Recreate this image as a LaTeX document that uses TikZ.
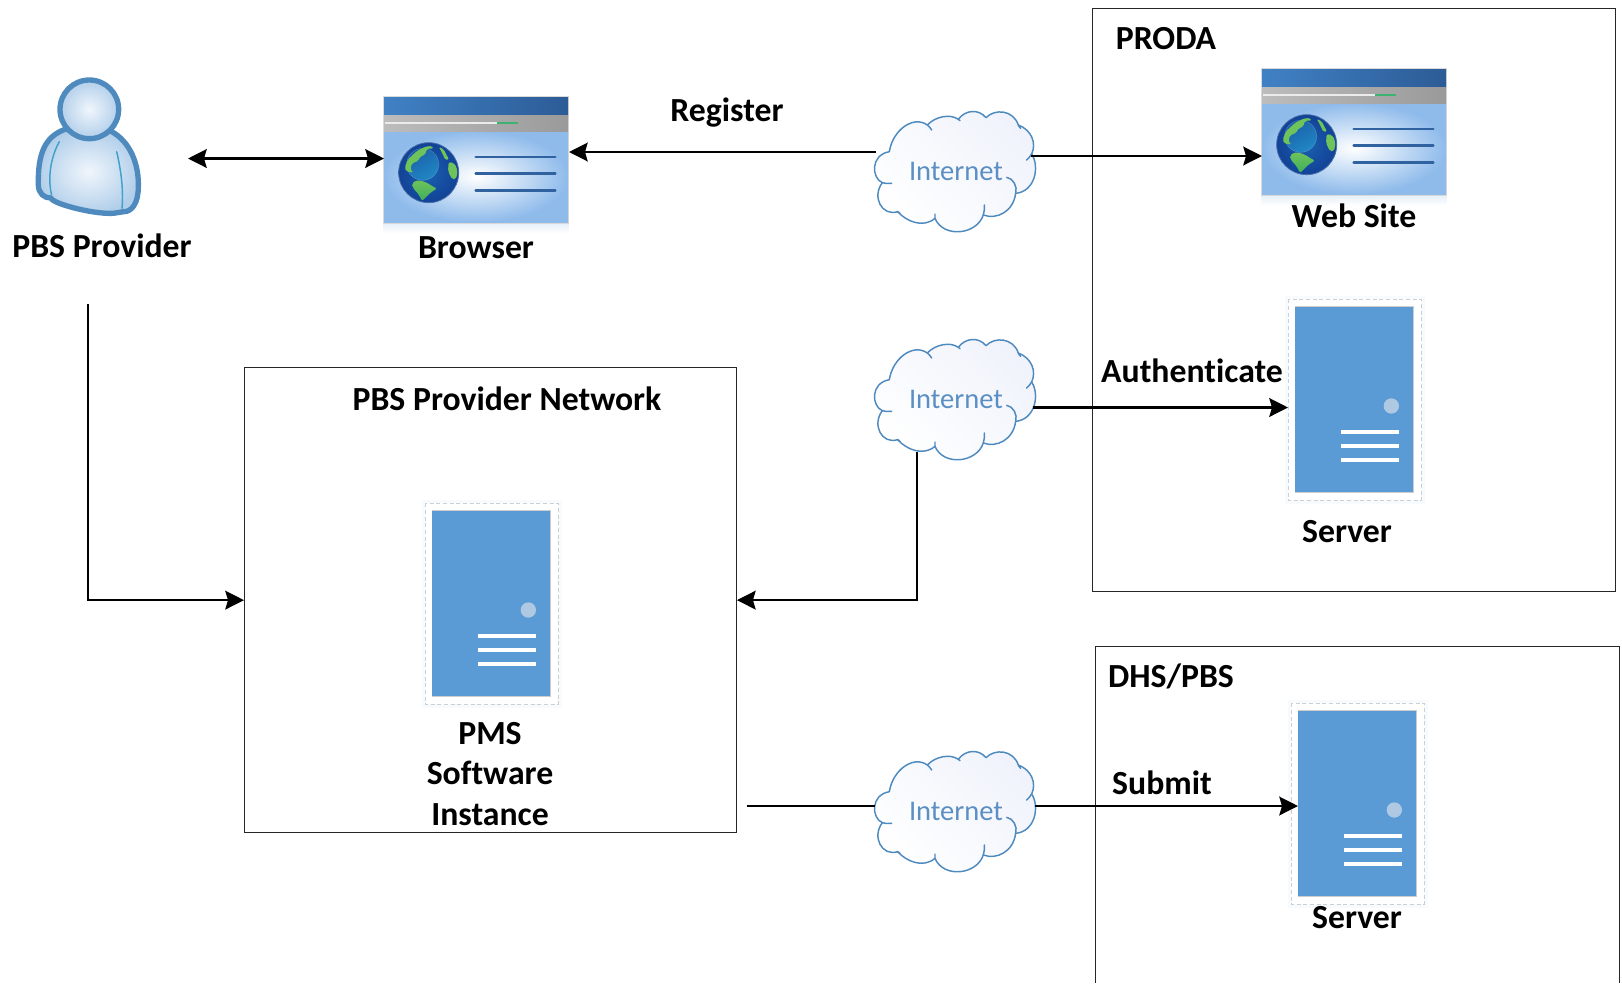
\documentclass[tikz,border=0pt]{standalone}
\usepackage{fontspec}
\setmainfont[Ligatures=NoCommon]{Carlito}
\usetikzlibrary{arrows.meta}
\definecolor{edgeblue}{HTML}{4F8ABF}
\definecolor{srvblue}{HTML}{5B9BD5}
\definecolor{srvdot}{HTML}{AFC9E3}
\definecolor{dashgray}{HTML}{CDD0D3}
\definecolor{txtblue}{HTML}{5B8FC4}
\definecolor{pagepale}{HTML}{8FBBEB}
\definecolor{titleL}{HTML}{4081C5}
\definecolor{titleR}{HTML}{2C5C96}
\definecolor{grayL}{HTML}{BCBCBC}
\definecolor{grayR}{HTML}{9A9A9A}
\definecolor{progress}{HTML}{3CB371}
\definecolor{rulerblue}{HTML}{2F629E}
\definecolor{globeIn}{HTML}{1A5FB0}
\definecolor{globeOut}{HTML}{124296}
\definecolor{globeEdge}{HTML}{466EAA}
\definecolor{lensA}{HTML}{2088C4}
\definecolor{lensB}{HTML}{1B5FA8}
\definecolor{land}{HTML}{6EC35A}
\definecolor{landB}{HTML}{3FAE5E}
\definecolor{cloudpale}{HTML}{F0F3FB}
\definecolor{shadowpale}{HTML}{E4EEF8}
\definecolor{skinIn}{HTML}{F0F6FC}
\definecolor{skinOut}{HTML}{B2CFEA}
\tikzset{
  lbl/.style={font=\fontsize{25.3}{30}\selectfont\bfseries,inner sep=0pt,text=black,align=center},
  netlbl/.style={font=\fontsize{21.4}{25}\selectfont,inner sep=0pt,text=txtblue},
  conn/.style={draw=black,line width=1.9pt,-{Stealth[length=14pt,width=14pt,inset=2pt]}},
  conntwo/.style={draw=black,line width=1.9pt,{Stealth[length=14pt,width=14pt,inset=2pt]}-{Stealth[length=14pt,width=14pt,inset=2pt]}},
  plain/.style={draw=black,line width=1.9pt},
  framebox/.style={draw=black!85,line width=.7pt,fill=none,inner sep=0pt},
  local/.style={x=.25pt,y=-.25pt}
}
\newcommand{\drawserver}[2]{%
\begin{scope}[shift={(#1,#2)},local]
  \fill[srvblue!4] (35,30) rectangle (455,655);
  \fill[white] (45,40) rectangle (445,643);
  \draw[dashgray,line width=.75pt,dash pattern=on 3pt off 2pt] (45,40) rectangle (445,643);
  \fill[black!20] (65,61) rectangle (423,621);
  \fill[srvblue] (67,63) rectangle (421,619);
  \fill[srvdot] (355,360) circle (23);
  \foreach \yy in {431,473,515} \fill[white] (204,\yy) rectangle (377,\yy+14);
\end{scope}}
\newcommand{\drawbrowser}[2]{%
\begin{scope}[shift={(#1,#2)},local]
  \shade[top color=shadowpale,bottom color=white] (25,398) rectangle (580,430);
  \fill[black!15] (23,18) rectangle (582,401);
  \shade[inner color=white,outer color=pagepale] (27,123) rectangle (579,396);
  \shade[left color=titleL,right color=titleR] (27,22) rectangle (579,75);
  \shade[left color=grayL,right color=grayR] (27,75) rectangle (579,123);
  \fill[white!92!black] (30,95.5) rectangle (365,101);
  \fill[progress] (365,95.5) rectangle (430,101);
  \foreach \yy in {201,251,301} \draw[rulerblue,line width=1.9pt,line cap=round] (302,\yy) -- (541,\yy);
  \shade[inner color=globeIn,outer color=globeOut,draw=globeEdge,line width=.6pt] (161,248) circle (90);
  \shade[top color=lensB,bottom color=lensA,shading angle=30,draw=white,draw opacity=.25,line width=.3pt] (143,223) circle (48);
  \fill[land,rounded corners=1.2pt] (89,233) -- (99,208) -- (126,183) -- (151,170) -- (171,168) -- (176,176) -- (156,176) -- (151,193) -- (136,200) -- (129,213) -- (111,220) -- (106,238) -- (116,248) -- (103,246) -- (93,243) -- cycle;
  \fill[land,rounded corners=1.2pt] (191,170) -- (206,178) -- (216,198) -- (223,208) -- (211,210) -- (201,188) -- cycle;
  \fill[land,rounded corners=1.5pt] (221,216) -- (239,220) -- (248,243) -- (243,268) -- (231,268) -- (219,243) -- cycle;
  \shade[top color=land,bottom color=landB,rounded corners=1.5pt] (111,278) -- (131,270) -- (156,278) -- (171,288) -- (186,296) -- (169,306) -- (156,318) -- (141,333) -- (131,313) -- (113,293) -- cycle;
\end{scope}}
\newcommand{\drawcloud}[2]{%
\begin{scope}[shift={(#1,#2)},local]
  \shade[draw=edgeblue,line width=1.1pt,line join=round,left color=cloudpale,right color=white,shading angle=-45]
  (118,185) .. controls (128,120) and (190,75) .. (232,105)
  .. controls (255,80) and (300,70) .. (325,88)
  .. controls (345,60) and (385,55) .. (408,83)
  .. controls (435,55) and (490,60) .. (505,105)
  .. controls (545,120) and (560,160) .. (545,192)
  .. controls (570,230) and (555,305) .. (497,310)
  .. controls (490,365) and (440,390) .. (400,375)
  .. controls (380,435) and (280,445) .. (255,385)
  .. controls (220,415) and (170,395) .. (143,365)
  .. controls (95,380) and (65,320) .. (97,278)
  .. controls (65,265) and (60,195) .. (118,185) -- cycle;
  \draw[edgeblue,line width=1.1pt,line cap=round]
    (97,278) .. controls (105,281) and (115,281) .. (125,280)
    (232,105) .. controls (237,110) and (242,114) .. (245,120)
    (325,88) -- (330,92)
    (505,105) .. controls (507,110) and (510,113) .. (512,115)
    (545,192) .. controls (540,200) and (535,206) .. (530,210)
    (497,310) .. controls (503,290) and (490,265) .. (470,262)
    (400,375) .. controls (403,365) and (404,355) .. (403,345)
    (255,385) .. controls (254,380) and (254,376) .. (255,372)
    (143,365) -- (150,370);
\end{scope}}
\newcommand{\drawperson}[2]{%
\begin{scope}[shift={(#1,#2)},local]
  \shade[inner color=skinIn,outer color=skinOut,draw=edgeblue,line width=4pt,line join=round]
  (120,178) .. controls (60,200) and (38,250) .. (40,345)
  .. controls (40,370) and (58,385) .. (78,384)
  .. controls (80,400) and (200,432) .. (260,430)
  .. controls (275,430) and (285,425) .. (297,425)
  .. controls (320,425) and (340,400) .. (340,350)
  .. controls (342,290) and (320,215) .. (255,182) -- cycle;
  \draw[edgeblue!80!cyan,line width=1.1pt,line cap=round] (103,215) .. controls (75,265) and (68,330) .. (80,375);
  \draw[edgeblue!80!cyan,line width=1.1pt,line cap=round] (275,245) .. controls (288,300) and (296,360) .. (291,415);
  \shade[inner color=skinIn,outer color=skinOut,draw=edgeblue,line width=4pt] (193,118) circle (88);
\end{scope}}
\begin{document}
\begin{tikzpicture}[x=.75pt,y=-.75pt]
\useasboundingbox (0,0) rectangle (1622,983);
% frames
\node[framebox,minimum width=392pt,minimum height=437.5pt,anchor=north west] (proda) at (1092,7.5) {};
\node[framebox,minimum width=369pt,minimum height=349pt,anchor=north west] (network) at (244,367) {};
\coordinate (dhsA) at (1095.5,983);
\coordinate (dhsB) at (1095.5,646);
\coordinate (dhsC) at (1619,646);
\coordinate (dhsD) at (1619,983);
\draw[draw=black!85,line width=.7pt] (dhsA) -- (dhsB) -- (dhsC) -- (dhsD);
% icons
\drawperson{25}{70}
\drawbrowser{375}{90}
\drawbrowser{1253}{62}
\drawserver{410}{490}
\drawserver{1273}{286}
\drawserver{1276}{690}
\drawcloud{850}{90}
\drawcloud{850}{318}
\drawcloud{850}{730}
% cloud captions
\node[netlbl] (cloudA) at (956,171) {Internet};
\node[netlbl] (cloudB) at (956,399) {Internet};
\node[netlbl] (cloudC) at (956,811) {Internet};
% labels
\node[lbl] (provider) at (102,246) {PBS Provider};
\node[lbl] (browser) at (476,247.5) {Browser};
\node[lbl] (register) at (727,113) {Register};
\node[lbl] (prodalbl) at (1166,39) {PRODA};
\node[lbl] (website) at (1354,216) {Web Site};
\node[lbl] (auth) at (1192,371) {Authenticate};
\node[lbl] (serverA) at (1347,532) {Server};
\node[lbl] (netlabel) at (507,399) {PBS Provider Network};
\node[lbl,font=\fontsize{25.3}{30.5}\selectfont\bfseries] (pms) at (490,774) {PMS\\Software\\Instance};
\node[lbl] (dhslbl) at (1171,676) {DHS/PBS};
\node[lbl] (submit) at (1162,783) {Submit};
\node[lbl] (serverB) at (1357,918) {Server};
% connector ends
\coordinate (personR) at (188,158.5);
\coordinate (browserL) at (384,158.5);
\coordinate (browserR) at (569,152);
\coordinate (cloudAl) at (876,152);
\coordinate (cloudAr) at (1031,156);
\coordinate (webL) at (1262,156);
\coordinate (cloudBr) at (1033,407.5);
\coordinate (srvAL) at (1288,407.5);
\coordinate (cloudBb) at (917,452);
\coordinate (cloudCl) at (875,806);
\coordinate (cloudCr) at (1035,806);
\coordinate (srvBL) at (1298,806);
\coordinate (netOut) at (747,806);
\coordinate (personB) at (88,304);
% connectors
\draw[conntwo] (personR) -- (browserL);
\draw[conn] (cloudAl) -- (browserR);
\draw[conn] (cloudAr) -- (webL);
\draw[conn] (cloudBr) -- (srvAL);
\draw[conn] (cloudBb) |- (network.east);
\draw[conn] (personB) |- (network.west);
\draw[plain] (netOut) -- (cloudCl);
\draw[conn] (cloudCr) -- (srvBL);
\end{tikzpicture}
\end{document}
